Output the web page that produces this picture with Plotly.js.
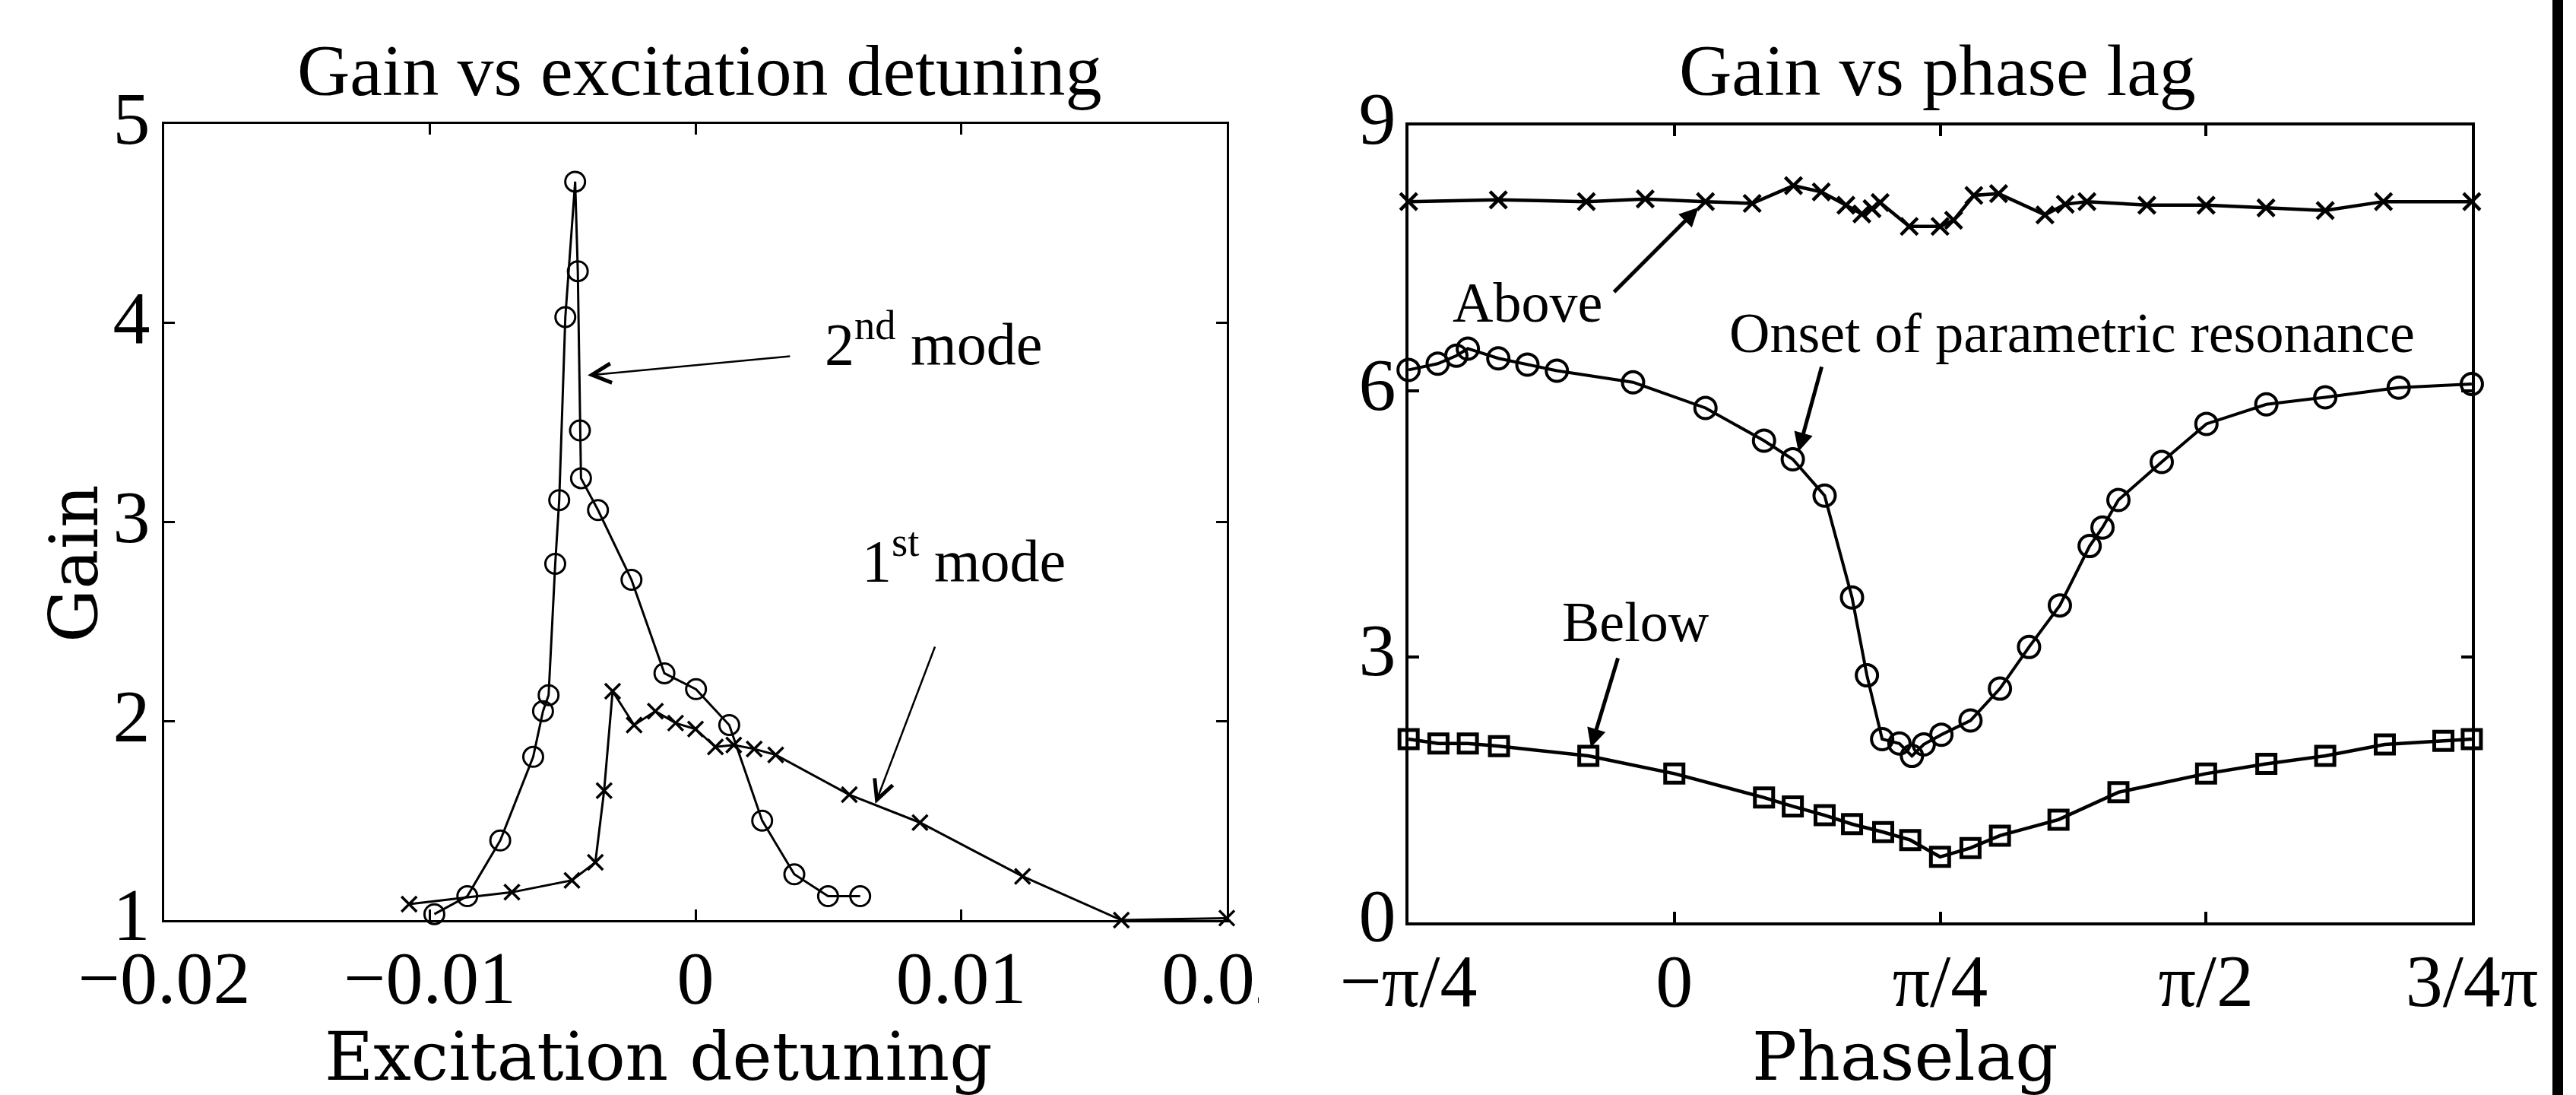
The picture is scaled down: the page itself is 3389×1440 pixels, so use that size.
<!DOCTYPE html>
<html>
<head>
<meta charset="utf-8">
<script src="https://cdn.plot.ly/plotly-3.0.1.min.js"></script>
<style>
  html, body { margin: 0; padding: 0; background: #ffffff; }
  #chart { width: 3389px; height: 1440px; }
</style>
</head>
<body>
<div id="chart"></div>
<script>
// ---------- Left panel: Gain vs excitation detuning ----------
const mode2Detuning = [-0.00983, -0.00859, -0.00735, -0.00611, -0.00574, -0.00553, -0.00528, -0.00513, -0.0049, -0.00453, -0.00443, -0.00435, -0.00431, -0.00367, -0.00241, -0.00117, 0.00002, 0.00127, 0.00251, 0.00372, 0.00499, 0.0062];
const mode2Gain = [1.03, 1.12, 1.40, 1.82, 2.05, 2.13, 2.79, 3.11, 4.03, 4.71, 4.26, 3.46, 3.22, 3.06, 2.71, 2.24, 2.16, 1.98, 1.50, 1.23, 1.12, 1.12];

const mode1Detuning = [-0.01078, -0.00691, -0.00465, -0.00377, -0.00344, -0.00312, -0.00231, -0.00151, -0.00075, 0.0, 0.00075, 0.00144, 0.00221, 0.00302, 0.00579, 0.00845, 0.01231, 0.01603, 0.02];
const mode1Gain = [1.08, 1.14, 1.20, 1.29, 1.65, 2.15, 1.98, 2.05, 1.99, 1.96, 1.87, 1.88, 1.86, 1.83, 1.63, 1.49, 1.22, 1.00, 1.01];

const detuningTickVals = [-0.02, -0.01, 0, 0.01, 0.02];
const detuningTickText = ['\u22120.02', '\u22120.01', '0', '0.01', '0.02'];
const gainTickVals1 = [1, 2, 3, 4, 5];
const gainTickText1 = ['1', '2', '3', '4', '5'];

// ---------- Right panel: Gain vs phase lag (x in radians) ----------
const abovePhase = [-0.785, -0.520, -0.260, -0.086, 0.092, 0.230, 0.352, 0.434, 0.507, 0.554, 0.584, 0.608, 0.694, 0.785, 0.825, 0.885, 0.958, 1.095, 1.155, 1.219, 1.396, 1.571, 1.748, 1.923, 2.095, 2.356];
const aboveGain = [8.14, 8.16, 8.14, 8.17, 8.14, 8.12, 8.32, 8.25, 8.10, 8.00, 8.06, 8.13, 7.86, 7.86, 7.93, 8.21, 8.23, 7.99, 8.11, 8.14, 8.10, 8.10, 8.07, 8.04, 8.14, 8.14];

const onsetPhase = [-0.785, -0.699, -0.644, -0.610, -0.520, -0.434, -0.347, -0.122, 0.092, 0.265, 0.350, 0.444, 0.525, 0.569, 0.614, 0.665, 0.702, 0.737, 0.789, 0.875, 0.962, 1.048, 1.139, 1.227, 1.265, 1.312, 1.440, 1.572, 1.749, 1.923, 2.140, 2.356];
const onsetGain = [6.24, 6.31, 6.40, 6.48, 6.37, 6.30, 6.23, 6.10, 5.81, 5.44, 5.23, 4.82, 3.67, 2.79, 2.07, 2.02, 1.88, 2.01, 2.12, 2.28, 2.64, 3.11, 3.58, 4.25, 4.46, 4.77, 5.20, 5.63, 5.85, 5.93, 6.04, 6.08];

const belowPhase = [-0.785, -0.697, -0.610, -0.518, -0.254, 0.0, 0.265, 0.350, 0.444, 0.525, 0.617, 0.697, 0.785, 0.875, 0.962, 1.135, 1.312, 1.571, 1.749, 1.923, 2.099, 2.272, 2.356];
const belowGain = [2.07, 2.02, 2.02, 1.99, 1.88, 1.68, 1.41, 1.31, 1.21, 1.11, 1.02, 0.93, 0.74, 0.84, 0.98, 1.16, 1.47, 1.68, 1.79, 1.88, 2.01, 2.05, 2.07];

const phaseTickVals = [-Math.PI / 4, 0, Math.PI / 4, Math.PI / 2, 3 * Math.PI / 4];
const phaseTickText = ['\u2212\u03C0/4', '0', '\u03C0/4', '\u03C0/2', '3/4\u03C0'];
const gainTickVals2 = [0, 3, 6, 9];
const gainTickText2 = ['0', '3', '6', '9'];

// ---------- geometry helpers (pixel -> paper) ----------
const W = 3389, H = 1440;
const px = v => v / W;
const py = v => 1 - v / H;

const serif = 'Liberation Serif, Times New Roman, serif';
const labelSerif = 'DejaVu Serif, serif';

const traces = [
  { x: mode2Detuning, y: mode2Gain, xaxis: 'x', yaxis: 'y', type: 'scatter', mode: 'lines+markers', cliponaxis: false,
    line: { color: 'black', width: 3 },
    marker: { symbol: 'circle-open', size: 26, color: 'black', line: { color: 'black', width: 3 } } },
  { x: mode1Detuning, y: mode1Gain, xaxis: 'x', yaxis: 'y', type: 'scatter', mode: 'lines+markers', cliponaxis: false,
    line: { color: 'black', width: 3 },
    marker: { symbol: 'x-thin-open', size: 20, color: 'black', line: { color: 'black', width: 3.5 } } },
  { x: abovePhase, y: aboveGain, xaxis: 'x2', yaxis: 'y2', type: 'scatter', mode: 'lines+markers', cliponaxis: false,
    line: { color: 'black', width: 4.5 },
    marker: { symbol: 'x-thin-open', size: 22, color: 'black', line: { color: 'black', width: 4.5 } } },
  { x: onsetPhase, y: onsetGain, xaxis: 'x2', yaxis: 'y2', type: 'scatter', mode: 'lines+markers', cliponaxis: false,
    line: { color: 'black', width: 4 },
    marker: { symbol: 'circle-open', size: 28, color: 'black', line: { color: 'black', width: 4 } } },
  { x: belowPhase, y: belowGain, xaxis: 'x2', yaxis: 'y2', type: 'scatter', mode: 'lines+markers', cliponaxis: false,
    line: { color: 'black', width: 4.5 },
    marker: { symbol: 'square-open', size: 24, color: 'black', line: { color: 'black', width: 5 } } }
];

const axisCommon = {
  showgrid: false, zeroline: false, showline: true, mirror: 'ticks',
  linecolor: 'black', ticks: 'inside', ticklen: 14, tickcolor: 'black',
  tickmode: 'array', fixedrange: true,
  tickfont: { family: serif, size: 98, color: 'black' }
};

const layout = {
  width: W, height: H,
  margin: { l: 0, r: 0, t: 0, b: 0, pad: 0 },
  paper_bgcolor: 'white', plot_bgcolor: 'white',
  showlegend: false,
  font: { family: serif, color: 'black' },
  xaxis: Object.assign({}, axisCommon, {
    domain: [px(216), px(1614)], range: [-0.02, 0.02], anchor: 'y',
    tickvals: detuningTickVals, ticktext: detuningTickText,
    linewidth: 3, tickwidth: 3, ticklabelstandoff: -12
  }),
  yaxis: Object.assign({}, axisCommon, {
    domain: [py(1210), py(163)], range: [1, 5], anchor: 'x',
    tickvals: gainTickVals1, ticktext: gainTickText1,
    linewidth: 3, tickwidth: 3, ticklabelstandoff: -4, ticklabelshift: -8
  }),
  xaxis2: Object.assign({}, axisCommon, {
    domain: [px(1853), px(3252)], range: [-Math.PI / 4, 3 * Math.PI / 4], anchor: 'y2',
    tickvals: phaseTickVals, ticktext: phaseTickText,
    linewidth: 4, tickwidth: 4, ticklabelstandoff: -12
  }),
  yaxis2: Object.assign({}, axisCommon, {
    domain: [py(1213), py(165)], range: [0, 9], anchor: 'x2',
    tickvals: gainTickVals2, ticktext: gainTickText2,
    linewidth: 4, tickwidth: 4, ticklabelstandoff: -7, ticklabelshift: -10
  }),
  shapes: [
    // white mask clipping the last tick label of the left panel (as in the source image)
    { type: 'rect', xref: 'paper', yref: 'paper', x0: px(1656), x1: px(1712), y0: py(1350), y1: py(1235),
      fillcolor: 'white', line: { width: 0 }, layer: 'above' },
    // black bar at the right edge of the image
    { type: 'rect', xref: 'paper', yref: 'paper', x0: px(3358), x1: px(3372), y0: 0, y1: 1,
      fillcolor: 'black', line: { width: 0 }, layer: 'above' }
  ],
  annotations: [
    // panel titles
    { xref: 'paper', yref: 'paper', x: px(920), y: py(92), text: 'Gain vs excitation detuning', showarrow: false,
      xanchor: 'center', yanchor: 'middle', font: { family: serif, size: 96, color: 'black' } },
    { xref: 'paper', yref: 'paper', x: px(2549), y: py(92), text: 'Gain vs phase lag', showarrow: false,
      xanchor: 'center', yanchor: 'middle', font: { family: serif, size: 96, color: 'black' } },
    // axis titles
    { xref: 'paper', yref: 'paper', x: px(866), y: py(1389), text: 'Excitation detuning', showarrow: false,
      xanchor: 'center', yanchor: 'middle', font: { family: labelSerif, size: 88, color: 'black' } },
    { xref: 'paper', yref: 'paper', x: px(2506), y: py(1389), text: 'Phaselag', showarrow: false,
      xanchor: 'center', yanchor: 'middle', font: { family: labelSerif, size: 88, color: 'black' } },
    { xref: 'paper', yref: 'paper', x: px(98), y: py(741), text: 'Gain', showarrow: false, textangle: -90,
      xanchor: 'center', yanchor: 'middle', font: { family: labelSerif, size: 88, color: 'black' } },
    // left panel labels
    { xref: 'x', yref: 'y', x: 0.00481, y: 3.72, text: '2<sup>nd</sup> mode', showarrow: false,
      xanchor: 'left', yanchor: 'bottom', font: { family: serif, size: 78, color: 'black' } },
    { xref: 'x', yref: 'y', x: 0.0062, y: 2.63, text: '1<sup>st</sup> mode', showarrow: false,
      xanchor: 'left', yanchor: 'bottom', font: { family: serif, size: 78, color: 'black' } },
    { xref: 'x', yref: 'y', axref: 'x', ayref: 'y', x: -0.00406, y: 3.737, ax: 0.0036, ay: 3.833, text: '',
      showarrow: true, arrowhead: 5, arrowsize: 2, arrowwidth: 2.5, arrowcolor: 'black' },
    { xref: 'x', yref: 'y', axref: 'x', ayref: 'y', x: 0.00677, y: 1.585, ax: 0.00903, ay: 2.379, text: '',
      showarrow: true, arrowhead: 5, arrowsize: 2, arrowwidth: 2.5, arrowcolor: 'black' },
    // right panel labels
    { xref: 'x2', yref: 'y2', x: -0.433, y: 7.0, text: 'Above', showarrow: false,
      xanchor: 'center', yanchor: 'middle', font: { family: serif, size: 74, color: 'black' } },
    { xref: 'x2', yref: 'y2', x: 1.175, y: 6.652, text: 'Onset of parametric resonance', showarrow: false,
      xanchor: 'center', yanchor: 'middle', font: { family: serif, size: 74, color: 'black' } },
    { xref: 'x2', yref: 'y2', x: -0.113, y: 3.392, text: 'Below', showarrow: false,
      xanchor: 'center', yanchor: 'middle', font: { family: serif, size: 74, color: 'black' } },
    { xref: 'x2', yref: 'y2', axref: 'x2', ayref: 'y2', x: 0.0715, y: 8.074, ax: -0.1813, ay: 7.106, text: '',
      showarrow: true, arrowhead: 2, arrowsize: 1, arrowwidth: 5, arrowcolor: 'black' },
    { xref: 'x2', yref: 'y2', axref: 'x2', ayref: 'y2', x: 0.3666, y: 5.316, ax: 0.4362, ay: 6.287, text: '',
      showarrow: true, arrowhead: 2, arrowsize: 1, arrowwidth: 5, arrowcolor: 'black' },
    { xref: 'x2', yref: 'y2', axref: 'x2', ayref: 'y2', x: -0.2465, y: 1.975, ax: -0.1656, ay: 2.997, text: '',
      showarrow: true, arrowhead: 2, arrowsize: 1, arrowwidth: 5, arrowcolor: 'black' }
  ]
};

Plotly.newPlot('chart', traces, layout, { staticPlot: true, displayModeBar: false });
</script>
</body>
</html>
